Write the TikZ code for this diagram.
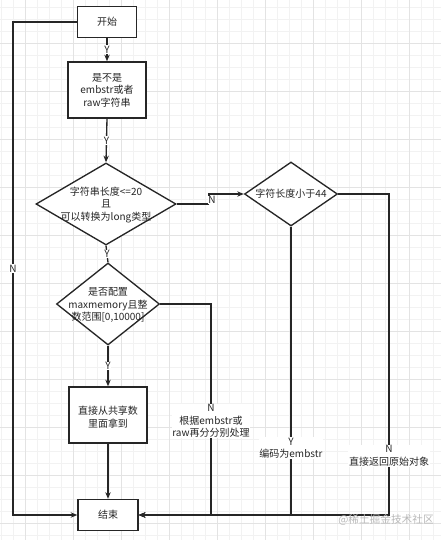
\documentclass[tikz,border=0pt]{standalone}
\usepackage{fontspec}
\setmainfont{Noto Sans CJK SC}
\usetikzlibrary{arrows.meta,shapes.geometric}
\begin{document}
\begin{tikzpicture}[x=0.75pt,y=-0.75pt,
  box/.style={draw=black!85,line width=1pt,fill=white,inner sep=0pt},
  dia/.style={draw=black!85,line width=1pt,fill=white,shape=diamond,inner sep=0pt},
  txt/.style={font=\fontsize{7.5pt}{9.4pt}\selectfont,align=center,inner sep=0pt,text=black!85},
  lbl/.style={font=\fontsize{7.5pt}{9.4pt}\selectfont,align=center,fill=white,inner sep=0.6pt,text=black!85},
  conn/.style={draw=black!85,line width=1pt},
  arr/.style={conn,-{Stealth[length=5pt,width=4pt]}},
  gminor/.style={draw=gray!10,line width=0.5pt},
  gmajor/.style={draw=gray!22,line width=0.5pt}]
\useasboundingbox (0,0) rectangle (441,540);
\fill[white] (0,0) rectangle (441,540);
% grid
\foreach \x in {1,13,...,441} \draw[gminor] (\x,0) -- (\x,540);
\foreach \y in {7,19,...,540} \draw[gminor] (0,\y) -- (441,\y);
\foreach \x in {25,73,...,441} \draw[gmajor] (\x,0) -- (\x,540);
\foreach \y in {43,91,...,540} \draw[gmajor] (0,\y) -- (441,\y);

% nodes
\node[box,minimum width=44.25pt,minimum height=23.25pt] (start) at (107,22) {};
\node[txt] (tstart) at (start) {开始};
\node[box,minimum width=58.5pt,minimum height=42pt] (box2) at (107,90) {};
\node[txt] (tbox2) at (box2) {是不是\\embstr或者\\raw字符串};
\node[dia,minimum width=105pt,minimum height=61.5pt] (d1) at (106,204) {};
\node[txt] (td1) at (106,205) {字符串长度<=20\\且\\可以转换为long类型};
\node[dia,minimum width=69.75pt,minimum height=48pt] (d2) at (291,194) {};
\node[txt] (td2) at (d2) {字符长度小于44};
\node[dia,minimum width=77.25pt,minimum height=61.5pt] (d3) at (108,304) {};
\node[txt] (td3) at (108,305) {是否配置\\maxmemory且整\\数范围[0,10000]};
\node[box,minimum width=58.5pt,minimum height=42pt] (box4) at (108,415) {};
\node[txt] (tbox4) at (108,417) {直接从共享数\\里面拿到};
\node[box,minimum width=45pt,minimum height=23.25pt] (end) at (108,515) {};
\node[txt] (tend) at (end) {结束};

% corner coordinates
\coordinate (lc) at (13,515);
\coordinate (k1) at (209,204);
\coordinate (rc) at (389,515);
\coordinate (mc) at (291,515);
\coordinate (nc) at (211,515);

% connectors
\draw[arr] (start.south) -- node[lbl]{Y} (box2.north);
\draw[arr] (box2.south) -- node[lbl]{Y} (d1.north);
\draw[conn] (d1.south) -- node[lbl]{Y} (d3.north);
\draw[arr] (d3.south) -- node[lbl]{Y} (box4.north);
\draw[arr] (box4.south) -- (end.north);
\draw[arr] (start.west) -| node[lbl,pos=0.75]{N} (lc) -- (end.west);
\draw[conn] (d1.east) -- (k1);
\draw[arr] (k1) |- (d2.west);
\node[lbl] (n1) at (212,200) {N};
\draw[arr] (d3.east) -| (nc) -- (end.east);
\draw[arr] (d2.south) -- (mc) -- (end.east);
\draw[arr] (d2.east) -| (rc) -- (end.east);
\node[lbl] (l3) at (211,421) {N\\根据embstr或\\raw再分分别处理};
\node[lbl] (l2) at (291,448) {Y\\编码为embstr};
\node[lbl] (l1) at (389,456) {N\\直接返回原始对象};

% watermark
\node[txt,text=gray!55,font=\fontsize{8pt}{9pt}\selectfont] (wm) at (386,520) {@稀土掘金技术社区};
\end{tikzpicture}
\end{document}
